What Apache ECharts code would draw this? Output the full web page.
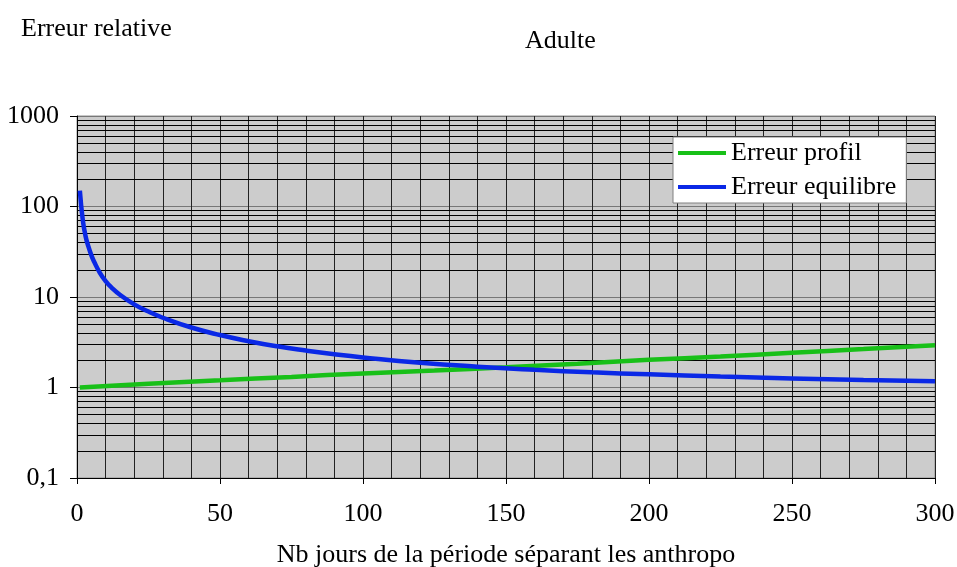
<!DOCTYPE html>
<html>
<head>
<meta charset="utf-8">
<script src="https://cdn.jsdelivr.net/npm/echarts@6/dist/echarts.min.js"></script>
<style>html,body{margin:0;padding:0;background:#fff}#c{width:957px;height:567px}</style>
</head>
<body>
<div id="c"></div>
<script>
// Data
var profilX = [1, 25, 50, 75, 100, 125, 150, 175, 200, 225, 250, 275, 300];
var profilY = [1.0, 1.1, 1.2, 1.31, 1.43, 1.54, 1.67, 1.83, 2.02, 2.2, 2.42, 2.66, 2.93];
var equilX = [1, 2, 3, 4, 5, 6, 8, 10, 12, 15, 20, 25, 30, 40, 50, 60, 70, 80, 90, 100, 120, 140, 160, 180, 200, 225, 250, 275, 300];
var equilY = [150, 72, 47, 36, 29, 24.5, 18.5, 15, 12.8, 10.6, 8.3, 6.9, 5.9, 4.6, 3.8, 3.25, 2.85, 2.56, 2.33, 2.15, 1.88, 1.7, 1.57, 1.47, 1.4, 1.32, 1.26, 1.21, 1.17];
var seriesNames = ['Erreur profil', 'Erreur equilibre'];
var yTickLabels = {'0.1': '0,1', '1': '1', '10': '10', '100': '100', '1000': '1000'};

var FONT = 'Liberation Serif';
var FS = 26;
var GREEN = '#18c018', BLUE = '#0a28e6';
function zip(xs, ys) { return xs.map(function (x, i) { return [x, ys[i]]; }); }

// minor log grid lines at 2..9 of each decade
var minorLines = [];
[0.1, 1, 10, 100].forEach(function (d) {
  for (var k = 2; k <= 9; k++) minorLines.push({ yAxis: +(d * k).toPrecision(3) });
});

var chart = echarts.init(document.getElementById('c'), null, { renderer: 'canvas' });
chart.setOption({
  animation: false,
  textStyle: { fontFamily: FONT, color: '#000' },
  title: [
    { text: 'Erreur relative', left: 16, top: 11, textStyle: { fontFamily: FONT, fontSize: FS, fontWeight: 'normal', color: '#000' } },
    { text: 'Adulte', left: 520, top: 23, textStyle: { fontFamily: FONT, fontSize: FS, fontWeight: 'normal', color: '#000' } }
  ],
  legend: {
    orient: 'vertical', left: 673, top: 137, z: 10,
    backgroundColor: '#fff', borderColor: '#808080', borderWidth: 1,
    padding: [3, 10, 3, 5], itemGap: 8, itemWidth: 48, itemHeight: 4,
    textStyle: { fontFamily: FONT, fontSize: FS, color: '#000' },
    data: [{ name: seriesNames[0], icon: 'rect' }, { name: seriesNames[1], icon: 'rect' }]
  },
  grid: { left: 77, right: 22, top: 116, bottom: 89, containLabel: false, outerBoundsMode: 'none',
    show: true, backgroundColor: '#cccccc', borderColor: '#909090', borderWidth: 1 },
  xAxis: {
    type: 'value', min: 0, max: 300, interval: 50,
    name: 'Nb jours de la période séparant les anthropo', nameLocation: 'middle', nameGap: 64,
    nameTextStyle: { fontFamily: FONT, fontSize: FS, color: '#000' },
    axisLine: { show: true, lineStyle: { color: '#000', width: 1 } },
    axisTick: { show: true, length: 6, lineStyle: { color: '#000' } },
    axisLabel: { fontFamily: FONT, fontSize: FS, color: '#000', margin: 23 },
    splitLine: { show: true, lineStyle: { color: '#222', width: 1 } },
    minorTick: { show: false, splitNumber: 5 },
    minorSplitLine: { show: true, lineStyle: { color: '#222', width: 1 } }
  },
  yAxis: {
    type: 'log', logBase: 10, min: 0.1, max: 1000,
    axisLine: { show: true, lineStyle: { color: '#000', width: 1 } },
    axisTick: { show: true, length: 7, lineStyle: { color: '#000' } },
    axisLabel: {
      fontFamily: FONT, fontSize: FS, color: '#000', margin: 18,
      formatter: function (v) { var k = String(+v.toPrecision(3)); return yTickLabels[k] !== undefined ? yTickLabels[k] : ''; }
    },
    splitLine: { show: true, lineStyle: { color: '#777', width: 1 } }
  },
  series: [
    {
      type: 'line', name: '_grid', data: [], z: 1, silent: true,
      markLine: { z: 1, silent: true, symbol: ['none', 'none'], label: { show: false }, animation: false,
        lineStyle: { color: '#000', width: 1, type: 'solid' }, emphasis: { disabled: true }, data: minorLines }
    },
    {
      type: 'line', name: seriesNames[0], data: zip(profilX, profilY), smooth: true, symbol: 'none', z: 3,
      lineStyle: { color: GREEN, width: 4.5 }, itemStyle: { color: GREEN }
    },
    {
      type: 'line', name: seriesNames[1], data: zip(equilX, equilY), smooth: true, symbol: 'none', z: 4,
      lineStyle: { color: BLUE, width: 4.5 }, itemStyle: { color: BLUE }
    }
  ]
});
</script>
</body>
</html>
